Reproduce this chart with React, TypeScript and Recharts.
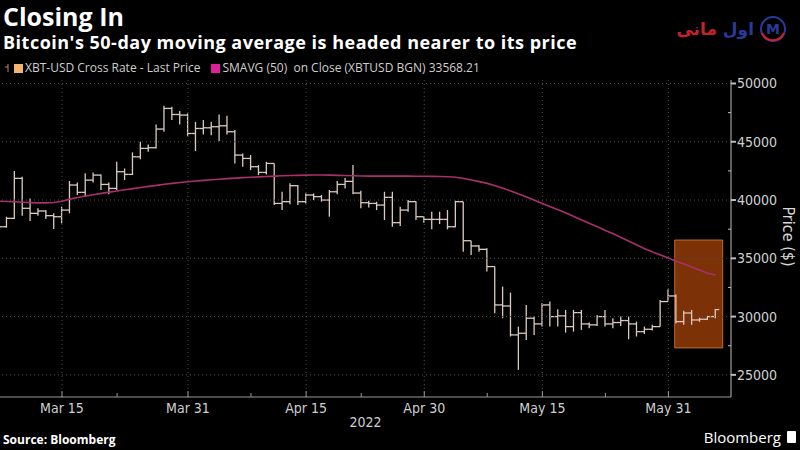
import React from 'react';
import { ComposedChart, Bar, Line, XAxis, YAxis, ReferenceLine, ReferenceArea } from 'recharts';

// day offsets are counted from Mar 15, 2022 (first bar is Mar 7)
const firstDay = -8;
const open = [
  39140, 37710, 38430, 41860, 39290, 38860, 39060, 38660, 38570, 39140,
  41290, 40660, 41710, 42140, 41340, 41000, 42430, 42200, 43710, 44430,
  44490, 46090, 47860, 47340, 47290, 45710, 46140, 46200, 46290, 46370,
  45860, 43860, 43570, 42860, 42370, 43140, 39710, 39860, 41230, 39860,
  40430, 40290, 40000, 40710, 41340, 41600, 40600, 39770, 39710, 39570,
  40230, 38060, 39140, 39860, 38570, 38340, 38340, 38340, 37710, 39860,
  36510, 36060, 35770, 34290, 31000, 30910, 28430, 28570, 29860, 29370,
  31000, 30000, 30060, 29140, 30340, 29370, 29290, 30000, 29370, 29490,
  29660, 29370, 28710, 28910, 29140, 31290, 31770, 29570, 30310, 29710,
  29770, 30000,
];
const high = [
  39430, 38570, 42490, 42000, 40140, 39290, 39140, 38860, 39430, 41630,
  41510, 42290, 42370, 42200, 41510, 43290, 42710, 44090, 45000, 44770,
  46490, 48090, 48000, 47630, 47430, 46710, 46860, 46710, 47340, 47230,
  46000, 44000, 43860, 43000, 43290, 43140, 40710, 41430, 41290, 40570,
  40570, 40430, 40860, 41630, 41900, 43000, 40800, 39940, 39860, 40710,
  40710, 39430, 40000, 39900, 38570, 39000, 39000, 39140, 39940, 39860,
  36510, 36140, 35860, 34290, 32570, 32060, 29140, 31000, 30000, 31140,
  31290, 30630, 30570, 30570, 30570, 29490, 30140, 30570, 29860, 30000,
  30000, 29570, 29140, 29290, 31430, 32340, 31900, 30500, 30570, 29900,
  30050, 30660,
];
const low = [
  37290, 37630, 38370, 38660, 38200, 38660, 38370, 37510, 38000, 38860,
  40430, 40290, 41510, 40860, 40490, 40860, 41710, 42140, 43510, 44140,
  44430, 45860, 46860, 46490, 45510, 44200, 45630, 45570, 45060, 45630,
  43140, 42860, 42570, 42140, 42200, 39570, 39140, 39630, 39570, 39710,
  40000, 39860, 38570, 40490, 41000, 40500, 39290, 39370, 39140, 38290,
  37710, 37770, 39000, 38290, 38060, 37490, 37940, 37490, 37660, 35570,
  35290, 35570, 33860, 30290, 29860, 28290, 25430, 28000, 28430, 29140,
  29140, 29140, 28630, 28710, 28860, 29000, 29200, 29140, 29000, 29200,
  28060, 28290, 28510, 28800, 29140, 31290, 29400, 29300, 29290, 29550,
  29700, 29860,
];
const close = [
  37710, 38430, 41860, 39290, 38860, 39060, 38660, 38570, 39140, 41290,
  40660, 41710, 42140, 41340, 41000, 42430, 42200, 43710, 44430, 44490,
  46090, 47860, 47340, 47290, 45710, 46140, 46200, 46290, 46370, 45860,
  43860, 43570, 42860, 42370, 43140, 39710, 39860, 41230, 39860, 40430,
  40290, 40000, 40710, 41340, 41600, 40600, 39770, 39710, 39570, 40230,
  38060, 39140, 39860, 38570, 38340, 38340, 38340, 37710, 39860, 36510,
  36060, 35770, 34290, 31000, 30910, 28430, 28570, 29860, 29370, 31000,
  30000, 30060, 29140, 30340, 29370, 29290, 30000, 29370, 29490, 29660,
  29370, 28710, 28910, 29140, 31290, 31770, 29570, 30310, 29710, 29770,
  30000, 30600,
];
const sma50 = [
  39900, 39880, 39850, 39810, 39780, 39760, 39760, 39790, 39900, 40080,
  40220, 40350, 40460, 40570, 40680, 40780, 40880, 40980, 41080, 41170,
  41260, 41350, 41430, 41500, 41570, 41630, 41690, 41740, 41790, 41840,
  41880, 41920, 41960, 41990, 42020, 42050, 42080, 42100, 42120, 42140,
  42150, 42150, 42140, 42120, 42100, 42080, 42060, 42050, 42050, 42050,
  42050, 42050, 42050, 42040, 42040, 42030, 42020, 42000, 41950, 41850,
  41720, 41580, 41430, 41230, 41010, 40770, 40520, 40260, 39990, 39710,
  39420, 39160, 38880, 38580, 38290, 37990, 37700, 37380, 37100, 36780,
  36460, 36140, 35820, 35540, 35280, 35020, 34750, 34510, 34240, 33970,
  33720, 33568,
];
const smaLast = '33568.21';

const majorXTicks = [0, 16, 31, 46, 61, 77];
const majorXLabels = ['Mar 15', 'Mar 31', 'Apr 15', 'Apr 30', 'May 15', 'May 31'];
const minorXTicks = [7, 24, 38, 54, 69];
const yMajorTicks = [25000, 30000, 35000, 40000, 45000, 50000];
const yMinorTicks = [27500, 32500, 37500, 42500, 47500];
// highlighted window (days from Mar 15, price range)
const boxDays = [77.8, 83.9];
const boxPrices = [27310, 36570];

const BAR_COLOR = '#dccac0';
const SMA_COLOR = '#a8306c';
const GRID = '#4e4e4e';
const AXIS_FONT = '"DejaVu Sans Condensed", "Liberation Sans Narrow", sans-serif';

const rows = open.map((o, i) => ({
  d: firstDay + i,
  open: o,
  high: high[i],
  low: low[i],
  close: close[i],
  range: [low[i], high[i]],
  sma: sma50[i],
}));

const OhlcBar = (props: any) => {
  const { x, y, width, height, payload } = props;
  if (x == null || y == null || !payload) return null;
  const top = Math.min(y, y + height);
  const h = Math.abs(height);
  const cx = x + width / 2;
  const span = payload.high - payload.low || 1;
  const toY = (v: number) => top + ((payload.high - v) / span) * h;
  return (
    <g stroke={BAR_COLOR} strokeWidth={1.3}>
      <line x1={cx} x2={cx} y1={top} y2={top + h} />
      <line x1={cx - 4} x2={cx} y1={toY(payload.open)} y2={toY(payload.open)} />
      <line x1={cx} x2={cx + 4} y1={toY(payload.close)} y2={toY(payload.close)} />
    </g>
  );
};

const XTick = ({ x, y, payload }: any) => {
  const idx = majorXTicks.indexOf(payload.value);
  return (
    <g>
      <line x1={x} x2={x} y1={y} y2={y - (idx >= 0 ? 6 : 4)} stroke="#9a9a9a" />
      {idx >= 0 && (
        <text x={x} y={y + 16} textAnchor="middle" fill="#cfcfcf" fontSize={14} fontFamily={AXIS_FONT}>
          {majorXLabels[idx]}
        </text>
      )}
    </g>
  );
};

const YTick = ({ x, y, payload }: any) => {
  const major = yMajorTicks.includes(payload.value);
  return (
    <g>
      <line x1={x} x2={x + (major ? 5 : -3)} y1={y} y2={y} stroke="#bdbdbd" strokeWidth={major ? 2 : 1} />
      {major && (
        <text x={x + 6} y={y + 5} textAnchor="start" fill="#cfcfcf" fontSize={14} fontFamily={AXIS_FONT}>
          {payload.value}
        </text>
      )}
    </g>
  );
};

const PriceLabel = ({ viewBox }: any) => {
  const { x, y, width, height } = viewBox;
  const lx = x + width - 17;
  const ly = y + height / 2 - 2;
  return (
    <text x={lx} y={ly} transform={`rotate(90 ${lx} ${ly})`} textAnchor="middle" fill="#d8d8d8" fontSize={16} fontFamily={AXIS_FONT}>
      Price ($)
    </text>
  );
};

export default function App() {
  return (
    <div style={{ position: 'absolute', left: 0, top: 0, width: 800, height: 450, background: '#000', overflow: 'hidden', fontFamily: '"Open Sans", sans-serif' }}>
      <div style={{ position: 'absolute', left: 3, top: 1, color: '#fff', fontSize: 25, fontWeight: 700, lineHeight: '30px' }}>Closing In</div>
      <div style={{ position: 'absolute', left: 3, top: 33, color: '#fff', fontSize: 18, fontWeight: 700, letterSpacing: 0.5, lineHeight: 1, whiteSpace: 'nowrap' }}>
        Bitcoin's 50-day moving average is headed nearer to its price
      </div>

      <div style={{ position: 'absolute', right: 12, top: 14, display: 'flex', alignItems: 'center', gap: 4 }}>
        <span dir="rtl" style={{ fontFamily: '"DejaVu Sans", sans-serif', fontWeight: 700, fontSize: 17 }}>
          <span style={{ color: '#2b3a9a' }}>اول</span> <span style={{ color: '#c8202c' }}>مانی</span>
        </span>
        <svg width={30} height={30}>
          <circle cx={15} cy={15} r={12} fill="none" stroke="#2b3a9a" strokeWidth={2} />
          <path d="M4 19 A12 12 0 0 0 26 19" fill="none" stroke="#c8202c" strokeWidth={2} />
          <text x={15} y={20} textAnchor="middle" fontSize={14} fontWeight={700} fill="#2b3a9a" fontFamily="DejaVu Sans">M</text>
        </svg>
      </div>

      <div style={{ position: 'absolute', left: 4, top: 60, display: 'flex', alignItems: 'center', color: '#cfcfcf', fontSize: 12, lineHeight: '16px' }}>
        <svg width={9} height={10} style={{ marginRight: 1 }}>
          <line x1={4} x2={4} y1={1} y2={9} stroke="#b08a70" />
          <line x1={1} x2={4} y1={4} y2={4} stroke="#b08a70" />
        </svg>
        <span style={{ width: 9, height: 9, background: '#f2b36e', marginRight: 2 }} />
        <span>XBT-USD Cross Rate - Last Price</span>
        <span style={{ width: 9, height: 9, background: '#e0209a', marginLeft: 11, marginRight: 2 }} />
        <span style={{ whiteSpace: 'pre' }}>SMAVG (50)  on Close (XBTUSD BGN) {smaLast}</span>
      </div>

      <div style={{ position: 'absolute', left: 0, top: 0 }}>
        <ComposedChart width={800} height={450} data={rows} margin={{ top: 80, right: 0, bottom: 23, left: 0 }}>
          {majorXTicks.map((t) => (
            <ReferenceLine key={'vx' + t} x={t} stroke={GRID} strokeDasharray="1 3" />
          ))}
          {yMajorTicks.map((t) => (
            <ReferenceLine key={'hy' + t} y={t} stroke={GRID} strokeDasharray="1 3" />
          ))}
          <XAxis
            type="number"
            dataKey="d"
            domain={[-7.87, 84.95]}
            allowDataOverflow
            ticks={[...majorXTicks, ...minorXTicks].sort((a, b) => a - b)}
            interval={0}
            tick={<XTick />}
            tickLine={false}
            tickSize={0}
            tickMargin={0}
            axisLine={{ stroke: '#9a9a9a' }}
            height={30}
          />
          <YAxis
            orientation="right"
            width={69}
            domain={[23100, 50300]}
            allowDataOverflow
            ticks={[...yMajorTicks, ...yMinorTicks].sort((a, b) => a - b)}
            interval={0}
            tick={<YTick />}
            tickLine={false}
            tickSize={0}
            tickMargin={0}
            axisLine={{ stroke: '#bdbdbd' }}
            label={{ content: <PriceLabel /> }}
          />
          <Line dataKey="sma" stroke={SMA_COLOR} strokeWidth={1.6} dot={false} isAnimationActive={false} />
          <ReferenceArea
            x1={boxDays[0]}
            x2={boxDays[1]}
            y1={boxPrices[0]}
            y2={boxPrices[1]}
            fill="#e25a0c"
            fillOpacity={0.55}
            stroke="#d8803c"
            strokeOpacity={0.8}
          />
          <Bar dataKey="range" barSize={8} shape={<OhlcBar />} isAnimationActive={false} />
        </ComposedChart>
      </div>

      <div style={{ position: 'absolute', left: 0, width: 731, top: 414, textAlign: 'center', color: '#cfcfcf', fontSize: 14, fontFamily: AXIS_FONT }}>
        2022
      </div>
      <div style={{ position: 'absolute', left: 3, top: 431, color: '#fff', fontSize: 12, fontWeight: 700 }}>Source: Bloomberg</div>
      <div style={{ position: 'absolute', right: 4, top: 427, display: 'flex', alignItems: 'center', gap: 6, color: '#fff', fontSize: 15 }}>
        <span>Bloomberg</span>
        <span style={{ width: 9, height: 12, background: '#fff', borderRadius: 1 }} />
      </div>
    </div>
  );
}
